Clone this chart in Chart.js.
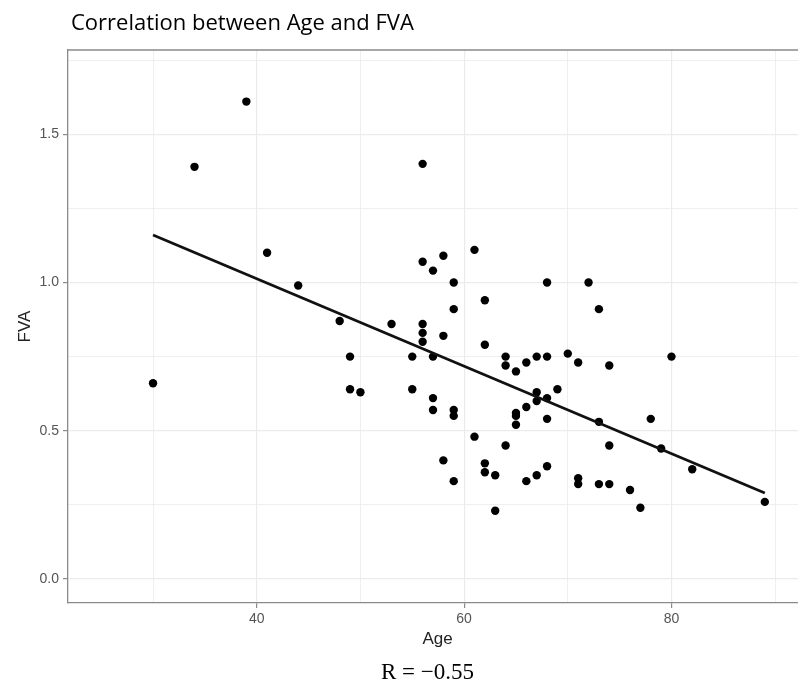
<!DOCTYPE html>
<html>
<head>
<meta charset="utf-8">
<script src="https://cdn.jsdelivr.net/npm/chart.js@4"></script>
<style>
  body { margin: 0; background: #fff; }
  #wrap { width: 798px; height: 683px; }
</style>
</head>
<body>
<div id="wrap"><canvas id="chart" width="798" height="683"></canvas></div>
<script>
'use strict'

// データ
const ages = [30, 34, 39, 41, 44, 48, 49, 49, 50, 53,
              55, 55, 56, 56, 56, 56, 56, 57, 57, 57,
              57, 58, 58, 58, 59, 59, 59, 59, 59, 61,
              61, 62, 62, 62, 62, 63, 63, 64, 64, 64,
              65, 65, 65, 65, 66, 66, 66, 67, 67, 67,
              67, 68, 68, 68, 68, 68, 69, 70, 71, 71,
              71, 72, 73, 73, 73, 74, 74, 74, 76, 77,
              78, 79, 80, 82, 89];
const fva = [0.66, 1.39, 1.61, 1.10, 0.99, 0.87, 0.75, 0.64, 0.63, 0.86,
             0.75, 0.64, 1.40, 1.07, 0.86, 0.83, 0.80, 1.04, 0.75, 0.61,
             0.57, 1.09, 0.82, 0.40, 1.00, 0.91, 0.57, 0.55, 0.33, 1.11,
             0.48, 0.94, 0.79, 0.39, 0.36, 0.35, 0.23, 0.75, 0.72, 0.45,
             0.70, 0.56, 0.55, 0.52, 0.73, 0.58, 0.33, 0.75, 0.63, 0.60,
             0.35, 1.00, 0.75, 0.61, 0.54, 0.38, 0.64, 0.76, 0.73, 0.34,
             0.32, 1.00, 0.91, 0.53, 0.32, 0.72, 0.45, 0.32, 0.30, 0.24,
             0.54, 0.44, 0.75, 0.37, 0.26];

// 回帰直線の両端
const fitAge = [30, 89];
const fitFva = [1.16, 0.29];

// 目盛りラベルを付ける値
const xLabelled = [40, 60, 80];
const yLabelled = [0, 0.5, 1.0, 1.5];

const titleText = 'Correlation between Age and FVA';
const xTitle = 'Age';
const yTitle = 'FVA';
const noteText = 'R = \u22120.55';

const borderGray = '#8a8a8a';
const gridGray = '#ebebeb';

function isXLabel(v) {
    return xLabelled.some(l => Math.abs(l - v) < 1e-6);
}
function isYLabel(v) {
    return yLabelled.some(l => Math.abs(l - v) < 1e-6);
}

// タイトルや注記を描くプラグイン
const textPlugin = {
    id: 'texts',
    afterDraw(chart) {
        const ctx = chart.ctx;
        const area = chart.chartArea;
        ctx.save();

        // 上の枠線
        ctx.strokeStyle = borderGray;
        ctx.lineWidth = 1.3;
        ctx.beginPath();
        ctx.moveTo(area.left - 0.6, area.top);
        ctx.lineTo(area.right, area.top);
        ctx.stroke();

        ctx.fillStyle = '#000';
        ctx.textBaseline = 'alphabetic';
        ctx.textAlign = 'left';
        ctx.font = '22px "Open Sans"';
        ctx.fillText(titleText, 71, 30);

        ctx.fillStyle = '#222';
        ctx.font = '17px "Liberation Sans"';
        ctx.textAlign = 'center';
        ctx.fillText(xTitle, 437.5, 644);

        ctx.save();
        ctx.translate(30, 326.5);
        ctx.rotate(-Math.PI / 2);
        ctx.fillText(yTitle, 0, 0);
        ctx.restore();

        ctx.fillStyle = '#000';
        ctx.font = '23px "Liberation Serif"';
        ctx.fillText(noteText, 427.5, 679);
        ctx.restore();
    }
};

const points = ages.map((a, i) => ({ x: a, y: fva[i] }));
const fitLine = fitAge.map((a, i) => ({ x: a, y: fitFva[i] }));

const ctx = document.getElementById('chart');
const myChart = new Chart(ctx, {
    type: 'scatter',
    data: {
        datasets: [
            {
                type: 'line',
                data: fitLine,
                borderColor: '#111',
                borderWidth: 2.8,
                pointRadius: 0,
                fill: false
            },
            {
                data: points,
                backgroundColor: '#000',
                borderWidth: 0,
                pointRadius: 4.2
            }
        ]
    },
    options: {
        responsive: false,
        animation: false,
        layout: { padding: { top: 50, left: 0, right: 0, bottom: 0 }, autoPadding: false },
        plugins: {
            legend: { display: false },
            tooltip: { enabled: false }
        },
        scales: {
            x: {
                type: 'linear',
                min: 21.8,
                max: 92.2,
                afterFit: s => { s.height = 80; },
                border: { color: borderGray, width: 1.3 },
                grid: {
                    color: gridGray,
                    lineWidth: c => isXLabel(c.tick.value) ? 1.2 : 0.8,
                    tickLength: 5,
                    tickWidth: 1.2,
                    tickColor: c => isXLabel(c.tick.value) ? borderGray : 'rgba(0,0,0,0)'
                },
                ticks: {
                    stepSize: 10,
                    includeBounds: false,
                    maxRotation: 0,
                    autoSkip: false,
                    padding: 3,
                    color: '#555',
                    font: { family: '"Liberation Sans"', size: 14 },
                    callback: v => isXLabel(v) ? String(v) : ''
                }
            },
            y: {
                type: 'linear',
                min: -0.081,
                max: 1.784,
                afterFit: s => { s.width = 68; },
                border: { color: borderGray, width: 1.3 },
                grid: {
                    color: gridGray,
                    lineWidth: c => isYLabel(c.tick.value) ? 1.2 : 0.8,
                    tickLength: 5,
                    tickWidth: 1.2,
                    tickColor: c => isYLabel(c.tick.value) ? borderGray : 'rgba(0,0,0,0)'
                },
                ticks: {
                    stepSize: 0.25,
                    includeBounds: false,
                    autoSkip: false,
                    padding: 4,
                    color: '#555',
                    font: { family: '"Liberation Sans"', size: 14 },
                    callback: v => isYLabel(v) ? v.toFixed(1) : ''
                }
            }
        }
    },
    plugins: [textPlugin]
});
</script>
</body>
</html>
